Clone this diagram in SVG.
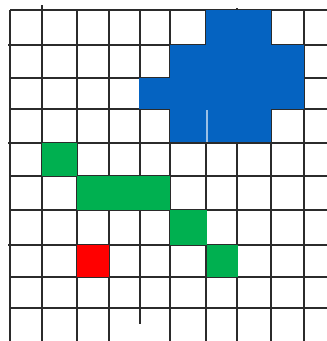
<svg xmlns="http://www.w3.org/2000/svg" width="327" height="341" viewBox="0 0 327 341">
  <style>
    .g line { stroke: #2b2b2b; stroke-width: 2; }
    .blue { fill: #0563c1; }
    .green { fill: #00b050; }
    .red { fill: #ff0000; }
  </style>
  <rect width="327" height="341" fill="#ffffff"/>
  <g id="grid" class="g">
    <line x1="10" y1="10" x2="10" y2="341"/>
    <line x1="42" y1="5" x2="42" y2="341"/>
    <line x1="77" y1="10" x2="77" y2="341"/>
    <line x1="109" y1="10" x2="109" y2="341"/>
    <line x1="140" y1="10" x2="140" y2="324"/>
    <line x1="170" y1="10" x2="170" y2="341"/>
    <line x1="206" y1="10" x2="206" y2="341"/>
    <line x1="237" y1="8" x2="237" y2="341"/>
    <line x1="271" y1="10" x2="271" y2="341"/>
    <line x1="304" y1="10" x2="304" y2="341"/>
    <line x1="10" y1="10" x2="327" y2="10"/>
    <line x1="8" y1="45" x2="327" y2="45"/>
    <line x1="10" y1="78" x2="327" y2="78"/>
    <line x1="10" y1="109" x2="327" y2="109"/>
    <line x1="8" y1="143" x2="327" y2="143"/>
    <line x1="10" y1="176" x2="327" y2="176"/>
    <line x1="10" y1="210" x2="327" y2="210"/>
    <line x1="8" y1="245" x2="327" y2="245"/>
    <line x1="10" y1="277" x2="327" y2="277"/>
    <line x1="10" y1="308" x2="327" y2="308"/>
  </g>
  <g id="blue-region">
    <polygon class="blue" points="206,10 271,10 271,45 304,45 304,109 271,109 271,142 170,142 170,109 139,109 139,78 170,78 170,45 206,45"/>
    <line x1="207" y1="110" x2="207" y2="142" stroke="#ffffff" stroke-width="1.2"/>
  </g>
  <g id="green-cells">
    <rect class="green" x="42" y="143" width="35" height="33"/>
    <rect class="green" x="77" y="176" width="93" height="34"/>
    <rect class="green" x="170" y="210" width="37" height="35"/>
    <rect class="green" x="207" y="245" width="31" height="32"/>
  </g>
  <g id="red-cell">
    <rect class="red" x="77" y="245" width="32" height="32"/>
  </g>
</svg>
